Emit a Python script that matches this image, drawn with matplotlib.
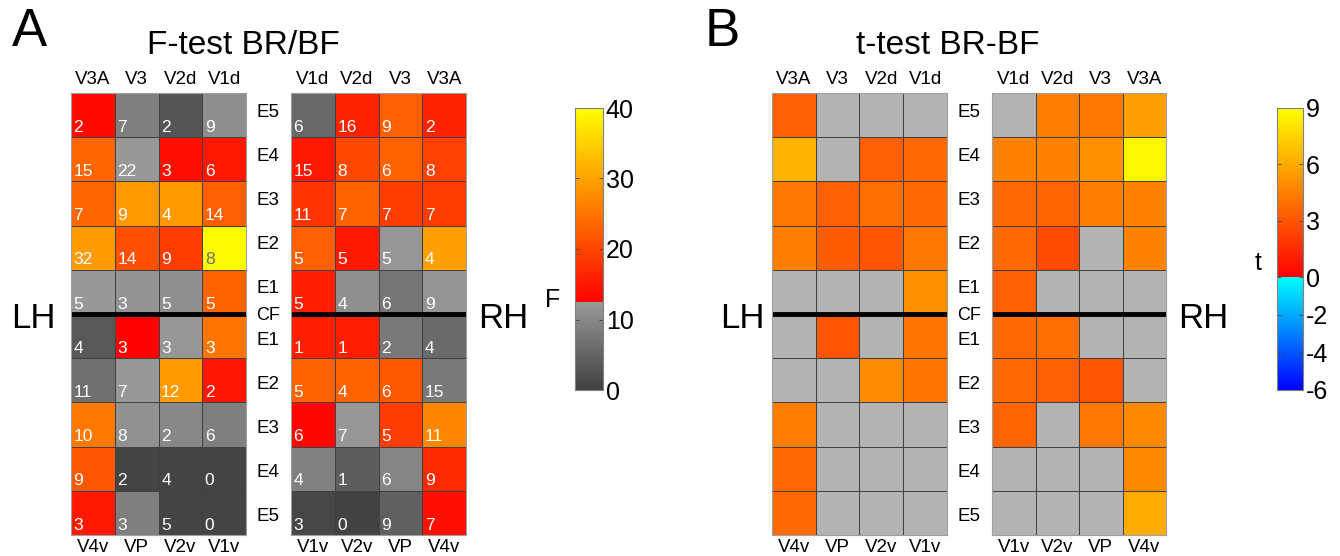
import numpy as np
import matplotlib
matplotlib.use('Agg')
import matplotlib.pyplot as plt
from matplotlib.colors import ListedColormap, Normalize
from matplotlib.cm import ScalarMappable

plt.rcParams['font.family'] = ['Liberation Sans', 'DejaVu Sans']
plt.rcParams['axes.unicode_minus'] = False

# ---- data ----
lh_top = ['V3A', 'V3', 'V2d', 'V1d']
lh_bottom = ['V4v', 'VP', 'V2v', 'V1v']
rh_top = ['V1d', 'V2d', 'V3', 'V3A']
rh_bottom = ['V1v', 'V2v', 'VP', 'V4v']
ecc_rows = ['E5', 'E4', 'E3', 'E2', 'E1', 'E1', 'E2', 'E3', 'E4', 'E5']

# F values (rows top to bottom: E5..E1 dorsal, then E1..E5 ventral)
F_lh = [[13.5, 8.9, 2.9, 10.9],
        [23.3, 12.2, 14.0, 15.0],
        [23.5, 28.7, 28.7, 22.7],
        [29.0, 21.0, 19.0, 39.5],
        [12.2, 11.5, 11.0, 23.0],
        [3.4, 12.6, 12.0, 25.0],
        [6.6, 12.2, 29.0, 14.6],
        [25.4, 11.3, 10.0, 8.9],
        [21.7, 0.7, 0.7, 0.7],
        [15.0, 8.9, 0.7, 0.7]]
F_rh = [[5.6, 16.0, 22.7, 16.0],
        [15.0, 20.0, 23.0, 19.5],
        [18.0, 23.0, 19.0, 19.0],
        [22.7, 15.0, 12.0, 29.7],
        [15.7, 11.0, 7.6, 11.7],
        [15.7, 15.7, 8.0, 5.8],
        [23.0, 23.0, 22.0, 8.0],
        [13.0, 12.0, 19.0, 27.0],
        [9.0, 4.0, 9.6, 17.0],
        [1.0, 0.3, 4.5, 14.0]]
# numbers printed in the cells
n_lh = [[2, 7, 2, 9], [15, 22, 3, 6], [7, 9, 4, 14], [32, 14, 9, 8], [5, 3, 5, 5],
        [4, 3, 3, 3], [11, 7, 12, 2], [10, 8, 2, 6], [9, 2, 4, 0], [3, 3, 5, 0]]
n_rh = [[6, 16, 9, 2], [15, 8, 6, 8], [11, 7, 7, 7], [5, 5, 5, 4], [5, 4, 6, 9],
        [1, 1, 2, 4], [5, 4, 6, 15], [6, 7, 5, 11], [4, 1, 6, 9], [3, 0, 9, 7]]

nan = np.nan
t_lh = [[3.35, nan, nan, nan],
        [6.3, nan, 3.35, 3.7],
        [4.2, 3.35, 3.9, 3.7],
        [4.4, 3.2, 3.0, 4.2],
        [nan, nan, nan, 5.1],
        [nan, 3.0, nan, 4.1],
        [nan, nan, 4.9, 4.1],
        [4.4, nan, nan, nan],
        [3.7, nan, nan, nan],
        [3.7, nan, nan, nan]]
t_rh = [[nan, 4.4, 4.2, 5.6],
        [4.6, 4.6, 5.1, 8.7],
        [3.7, 3.5, 4.4, 4.6],
        [3.7, 2.6, nan, 4.6],
        [3.35, nan, nan, nan],
        [3.7, 3.9, nan, nan],
        [3.7, 3.35, 3.0, nan],
        [3.5, nan, 4.2, 4.8],
        [nan, nan, nan, 4.8],
        [nan, nan, nan, 6.0]]

F_thr = 12.4
F_ticks = [0, 10, 20, 30, 40]
t_ticks = [-6, -4, -2, 0, 3, 6, 9]

# ---- colormaps ----
v = np.linspace(0, 40, 512)
g = (0x40 + (0x99 - 0x40) * v / F_thr) / 255.0
fr = np.clip((v - F_thr) / (40 - F_thr), 0, 1)
cols = np.where((v < F_thr)[:, None],
                np.stack([g, g, g], 1),
                np.stack([np.ones_like(v), fr, np.zeros_like(v)], 1))
cmap_F = ListedColormap(cols)
norm_F = Normalize(0, 40)

v = np.linspace(-6, 9, 600)
cols = np.where((v < 0)[:, None],
                np.stack([np.zeros_like(v), np.clip((v + 6) / 6, 0, 1), np.ones_like(v)], 1),
                np.stack([np.ones_like(v), np.clip(v / 9, 0, 1), np.zeros_like(v)], 1))
cmap_t = ListedColormap(cols)
cmap_t.set_bad((0.70, 0.70, 0.70))
norm_t = Normalize(-6, 9)

W, H = 1340, 556
fig = plt.figure(figsize=(W / 100, H / 100), dpi=100)


def ax_px(x0, y0, x1, y1):
    return fig.add_axes([x0 / W, 1 - y1 / H, (x1 - x0) / W, (y1 - y0) / H])


def txt(x, y, s, **kw):
    fig.text(x / W, 1 - y / H, s, ha=kw.pop('ha', 'center'), va=kw.pop('va', 'center'), **kw)


def grid(x0, x1, vals, cmap, norm, top, bottom, nums=None):
    ax = ax_px(x0, 93, x1, 535)
    data = np.ma.masked_invalid(np.array(vals, dtype=float))
    ax.pcolormesh(np.arange(5), np.arange(11), data, cmap=cmap, norm=norm,
                  edgecolors='#404040', linewidth=0.7)
    ax.set_xlim(0, 4)
    ax.set_ylim(10, 0)
    ax.axhline(5, color='k', lw=3.5)
    ax.set_xticks([])
    ax.set_yticks([])
    for s in ax.spines.values():
        s.set_color('#a0a0a0')
        s.set_linewidth(0.8)
    cw = (x1 - x0) / 4
    for i, lab in enumerate(top):
        txt(x0 + cw * (i + 0.5), 79, lab, fontsize=13.5)
    for i, lab in enumerate(bottom):
        txt(x0 + cw * (i + 0.5), 547, lab, fontsize=13.5)
    if nums is not None:
        for r in range(10):
            for c in range(4):
                col = '#707070' if vals[r][c] > 35 else 'white'
                ax.text(c + 0.06, r + 0.88, str(nums[r][c]), color=col,
                        fontsize=12.5, ha='left', va='baseline')
    return ax


def middle_labels(xc):
    for r, lab in enumerate(ecc_rows):
        y = 93 + (r + 0.5) * 44.2 + (4 if r >= 5 else -3)
        txt(xc, y, lab, fontsize=13.5)
    txt(xc, 315, 'CF', fontsize=13)


def cbar(x0, x1, cmap, norm, ticks, label, lx, ly):
    cax = ax_px(x0, 108, x1, 390)
    cb = fig.colorbar(ScalarMappable(norm=norm, cmap=cmap), cax=cax, ticks=ticks)
    cb.outline.set_edgecolor('#808080')
    cb.outline.set_linewidth(0.8)
    cax.tick_params(labelsize=18, direction='in', length=3, width=0.6,
                    left=True, right=True, pad=2, color='#404040')
    txt(lx, ly, label, fontsize=18)


# panel A
grid(71, 246, F_lh, cmap_F, norm_F, lh_top, lh_bottom, n_lh)
grid(291, 466, F_rh, cmap_F, norm_F, rh_top, rh_bottom, n_rh)
middle_labels(268)
txt(29, 32, 'A', fontsize=38)
txt(243, 46, 'F-test BR/BF', fontsize=24)
txt(33, 318, 'LH', fontsize=25)
txt(503, 318, 'RH', fontsize=25)
cbar(575, 603, cmap_F, norm_F, F_ticks, 'F', 553, 300)

# panel B
grid(772, 947, t_lh, cmap_t, norm_t, lh_top, lh_bottom)
grid(992, 1166, t_rh, cmap_t, norm_t, rh_top, rh_bottom)
middle_labels(969)
txt(722, 32, 'B', fontsize=38)
txt(948, 46, 't-test BR-BF', fontsize=24)
txt(742, 318, 'LH', fontsize=25)
txt(1203, 318, 'RH', fontsize=25)
cbar(1277, 1303, cmap_t, norm_t, t_ticks, 't', 1258, 263)

fig.savefig('out.png', dpi=100)
